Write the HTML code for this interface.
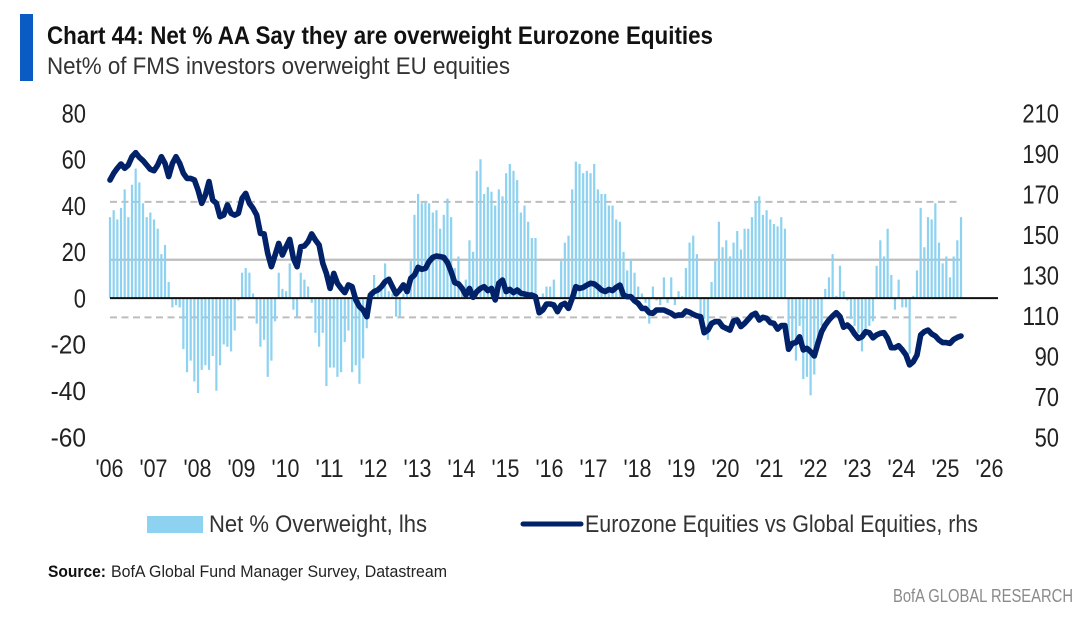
<!DOCTYPE html>
<html lang="en">
<head>
<meta charset="utf-8">
<title>Chart 44: Net % AA Say they are overweight Eurozone Equities</title>
<style>
html,body{margin:0;padding:0;background:#fff;width:1080px;height:626px;overflow:hidden}
svg{display:block}
text{font-family:"Liberation Sans Narrow","Liberation Sans",sans-serif;fill:#222}
</style>
</head>
<body>
<svg id="chart" xmlns="http://www.w3.org/2000/svg" width="1080" height="626" viewBox="0 0 1080 626">
  <rect x="0" y="0" width="1080" height="626" fill="#fff"/>
  <rect x="20" y="14" width="13" height="67" fill="#0a5bc4"/>
  <text x="47" y="44" font-size="25" font-weight="700" textLength="666" lengthAdjust="spacingAndGlyphs" style="fill:#111">Chart 44: Net % AA Say they are overweight Eurozone Equities</text>
  <text x="47" y="74" font-size="24" textLength="463" lengthAdjust="spacingAndGlyphs" style="fill:#333">Net% of FMS investors overweight EU equities</text>
  <g id="refs"></g>
  <g id="bars"></g>
  <g id="zero"></g>
  <g id="line"></g>
  <g id="leftAxis"></g>
  <g id="rightAxis"></g>
  <g id="xAxis"></g>
  <rect x="147" y="516" width="56" height="17" fill="#8dd2f0"/>
  <text x="209" y="532" font-size="24" textLength="218" lengthAdjust="spacingAndGlyphs" style="fill:#333">Net % Overweight, lhs</text>
  <line x1="523" y1="524" x2="581" y2="524" stroke="#012169" stroke-width="5" stroke-linecap="round"/>
  <text x="585" y="532" font-size="24" textLength="393" lengthAdjust="spacingAndGlyphs" style="fill:#333">Eurozone Equities vs Global Equities, rhs</text>
  <text x="48" y="577" font-size="17" font-weight="700" textLength="58" lengthAdjust="spacingAndGlyphs" style="fill:#111">Source:</text>
  <text x="111" y="577" font-size="17" textLength="336" lengthAdjust="spacingAndGlyphs" style="fill:#222">BofA Global Fund Manager Survey, Datastream</text>
  <text x="893" y="602" font-size="18" textLength="180" lengthAdjust="spacingAndGlyphs" style="fill:#8a8a8a">BofA GLOBAL RESEARCH</text>
</svg>
<script>
const leftTicks = [80, 60, 40, 20, 0, -20, -40, -60];
const rightTicks = [210, 190, 170, 150, 130, 110, 90, 70, 50];
const yearLabels = ["'06","'07","'08","'09","'10","'11","'12","'13","'14","'15","'16","'17","'18","'19","'20","'21","'22","'23","'24","'25","'26"];
const dashedLevels = [41.6, -8.3];
const solidLevels = [16.6];
const netOverweight = [
35,38,34,39,47,35,49,56,50,41,35,37,34,30,19,23,7,-4,-3,-4,
-22,-32,-27,-36,-41,-31,-29,-31,-25,-40,-29,-20,-21,-23,-14,-1,11,13,11,2,
-11,-21,-18,-34,-27,-10,11,4,3,15,-5,-8,11,8,5,-2,-15,-21,-15,-38,
-30,-30,-34,-32,-19,-14,-32,-29,-37,-26,-13,3,10,4,4,15,3,2,-8,-8,
2,2,16,36,45,41,42,41,37,38,30,36,43,35,13,18,4,8,25,20,
55,60,45,48,46,40,47,44,54,58,55,51,37,40,33,26,26,0,2,5,
5,8,0,16,24,27,47,59,58,54,55,54,58,47,45,45,40,40,34,33,
20,12,17,11,5,2,-2,-11,5,-1,-3,9,-2,9,-3,3,1,13,24,27,
19,-8,-9,-18,7,16,33,22,25,18,24,29,21,30,30,35,42,44,36,38,
34,32,31,35,30,-21,-20,-27,-12,-35,-34,-42,-33,-21,-12,4,9,19,1,14,
3,-1,-9,-12,-15,-23,-16,-12,-10,14,25,18,30,10,-5,8,-4,-4,-24,1,
12,39,22,35,34,41,24,15,18,9,18,25,35
];
const relativeIndex = [
176.9,180.2,182.7,184.8,182.7,184.3,188.4,190.4,188.1,186.5,184.3,182.2,181.5,184.3,188.4,185.1,178.6,185.1,188.4,185.1,
180.2,177.7,177.7,176.9,172,165.4,169.5,176.1,167,165.4,158.8,159.6,164.6,160.5,159.6,160.5,167.9,170.3,165.4,162.9,
159.6,150.6,150.3,140.7,134.1,139.9,145.6,139.9,144,147.6,138.2,134.1,144,144.3,146.5,150.3,147.3,144.8,135.8,130.8,
123.4,130.8,125.9,123.4,121.3,125.1,124.2,117.7,114.4,112.7,109.4,120.1,121.8,122.6,124.2,126.7,127.9,124.2,120.6,122.6,
125.1,121.8,128.4,130,133.8,132.8,133.3,136.6,138.7,139.4,139.1,138.7,136.1,131.7,126.2,125.6,123.4,120.1,123.4,119,
121.8,123.4,124.2,122.3,123.4,117.7,125.9,127.5,121.8,122.9,121.3,122.6,121,120.6,120.1,120.1,119.3,111.4,112.7,115.7,
115.7,115.2,111.9,115.2,116,113.5,118.5,124.2,123.4,123.9,125,125.9,125.6,124.2,122.6,121.8,122.9,122.3,123.9,125,
120.1,119.3,119.3,117.3,116,113.5,113.5,111.4,111.1,112.7,112.7,112.7,111.9,111.1,109.8,110.3,110.2,112.2,111.6,110.6,
109.8,109.4,101.5,102.8,106.1,107,107,104.5,103.7,102.8,107.4,107.8,104.5,106.1,108.1,110.2,111.1,107.8,109.1,108.6,
106.5,106.1,103.3,105,105,93.3,96.2,96.6,99.5,93,93.8,92.1,90,96.2,102,105.3,107.8,109.7,111.4,109.4,
104.2,105.3,103.7,100.9,98.7,99.5,102,101.5,99,100.4,101.2,101.5,98.7,94.1,94.1,95.1,93,90.5,85.6,87.2,
90.5,100.4,102,102.8,100.9,99.9,97.9,96.6,96.6,96.2,98.2,99.2,99.9
];

const NS = 'http://www.w3.org/2000/svg';
const plotTop = 113, plotBottom = 437;
const plotLeft = 110, plotEnd = 961, axisEnd = 998;
function yLeft(v){ return plotTop + (80 - v) * (plotBottom - plotTop) / 140; }
function yRight(v){ return plotTop + (210 - v) * (plotBottom - plotTop) / 160; }
function xMonth(i){ return plotLeft + i * (plotEnd - plotLeft) / 232; }
function xYear(i){ return 109.5 + i * 44; }
function tickWidth(v){
  const digits = String(Math.abs(v)).length;
  return digits * 12.2 + (v < 0 ? 11 : 0);
}
function make(tag, parent){
  const el = document.createElementNS(NS, tag);
  document.getElementById(parent).appendChild(el);
  return el;
}

dashedLevels.forEach(function(v){
  const l = make('line', 'refs');
  
  
  l.setAttribute('x1', plotLeft);
  l.setAttribute('x2', plotEnd);
  l.setAttribute('y1', yLeft(v));
  l.setAttribute('y2', yLeft(v));
  l.setAttribute('stroke', '#bdbdbd');
  l.setAttribute('stroke-width', '2');
  l.setAttribute('stroke-dasharray', '7 4.5');
});
solidLevels.forEach(function(v){
  const l = make('line', 'refs');
  
  
  l.setAttribute('x1', plotLeft);
  l.setAttribute('x2', plotEnd);
  l.setAttribute('y1', yLeft(v));
  l.setAttribute('y2', yLeft(v));
  l.setAttribute('stroke', '#bdbdbd');
  l.setAttribute('stroke-width', '2.2');
});

netOverweight.forEach(function(v, i){
  const r = make('rect', 'bars');
  
  
  r.setAttribute('x', xMonth(i) - 1.1);
  r.setAttribute('width', 2.2);
  r.setAttribute('y', Math.min(yLeft(v), yLeft(0)));
  r.setAttribute('height', Math.abs(yLeft(v) - yLeft(0)));
  r.setAttribute('fill', '#8dd2f0');
});

const zeroLine = make('line', 'zero');


zeroLine.setAttribute('x1', plotLeft);
zeroLine.setAttribute('x2', axisEnd);
zeroLine.setAttribute('y1', yLeft(0));
zeroLine.setAttribute('y2', yLeft(0));
zeroLine.setAttribute('stroke', '#111');
zeroLine.setAttribute('stroke-width', '2');

const seriesPath = make('path', 'line');


seriesPath.setAttribute('d', relativeIndex.map(function(v, i){
  return (i ? 'L' : 'M') + xMonth(i).toFixed(1) + ' ' + yRight(v).toFixed(1);
}).join(''));
seriesPath.setAttribute('fill', 'none');
seriesPath.setAttribute('stroke', '#012169');
seriesPath.setAttribute('stroke-width', '5.6');
seriesPath.setAttribute('stroke-linejoin', 'round');
seriesPath.setAttribute('stroke-linecap', 'round');

leftTicks.forEach(function(v){
  const t = make('text', 'leftAxis');
  
  
  t.setAttribute('x', 86);
  t.setAttribute('y', yLeft(v) + 9.3);
  t.setAttribute('text-anchor', 'end');
  t.setAttribute('font-size', '26');
  t.setAttribute('textLength', tickWidth(v));
  t.setAttribute('lengthAdjust', 'spacingAndGlyphs');
  t.textContent = v;
});
rightTicks.forEach(function(v){
  const t = make('text', 'rightAxis');
  
  
  t.setAttribute('x', 1059);
  t.setAttribute('y', yRight(v) + 9.3);
  t.setAttribute('text-anchor', 'end');
  t.setAttribute('font-size', '26');
  t.setAttribute('textLength', tickWidth(v));
  t.setAttribute('lengthAdjust', 'spacingAndGlyphs');
  t.textContent = v;
});
yearLabels.forEach(function(label, i){
  const t = make('text', 'xAxis');
  
  
  t.setAttribute('x', xYear(i));
  t.setAttribute('y', 477);
  t.setAttribute('text-anchor', 'middle');
  t.setAttribute('font-size', '25');
  t.setAttribute('textLength', '28');
  t.setAttribute('lengthAdjust', 'spacingAndGlyphs');
  t.textContent = label;
});
</script>
</body>
</html>
